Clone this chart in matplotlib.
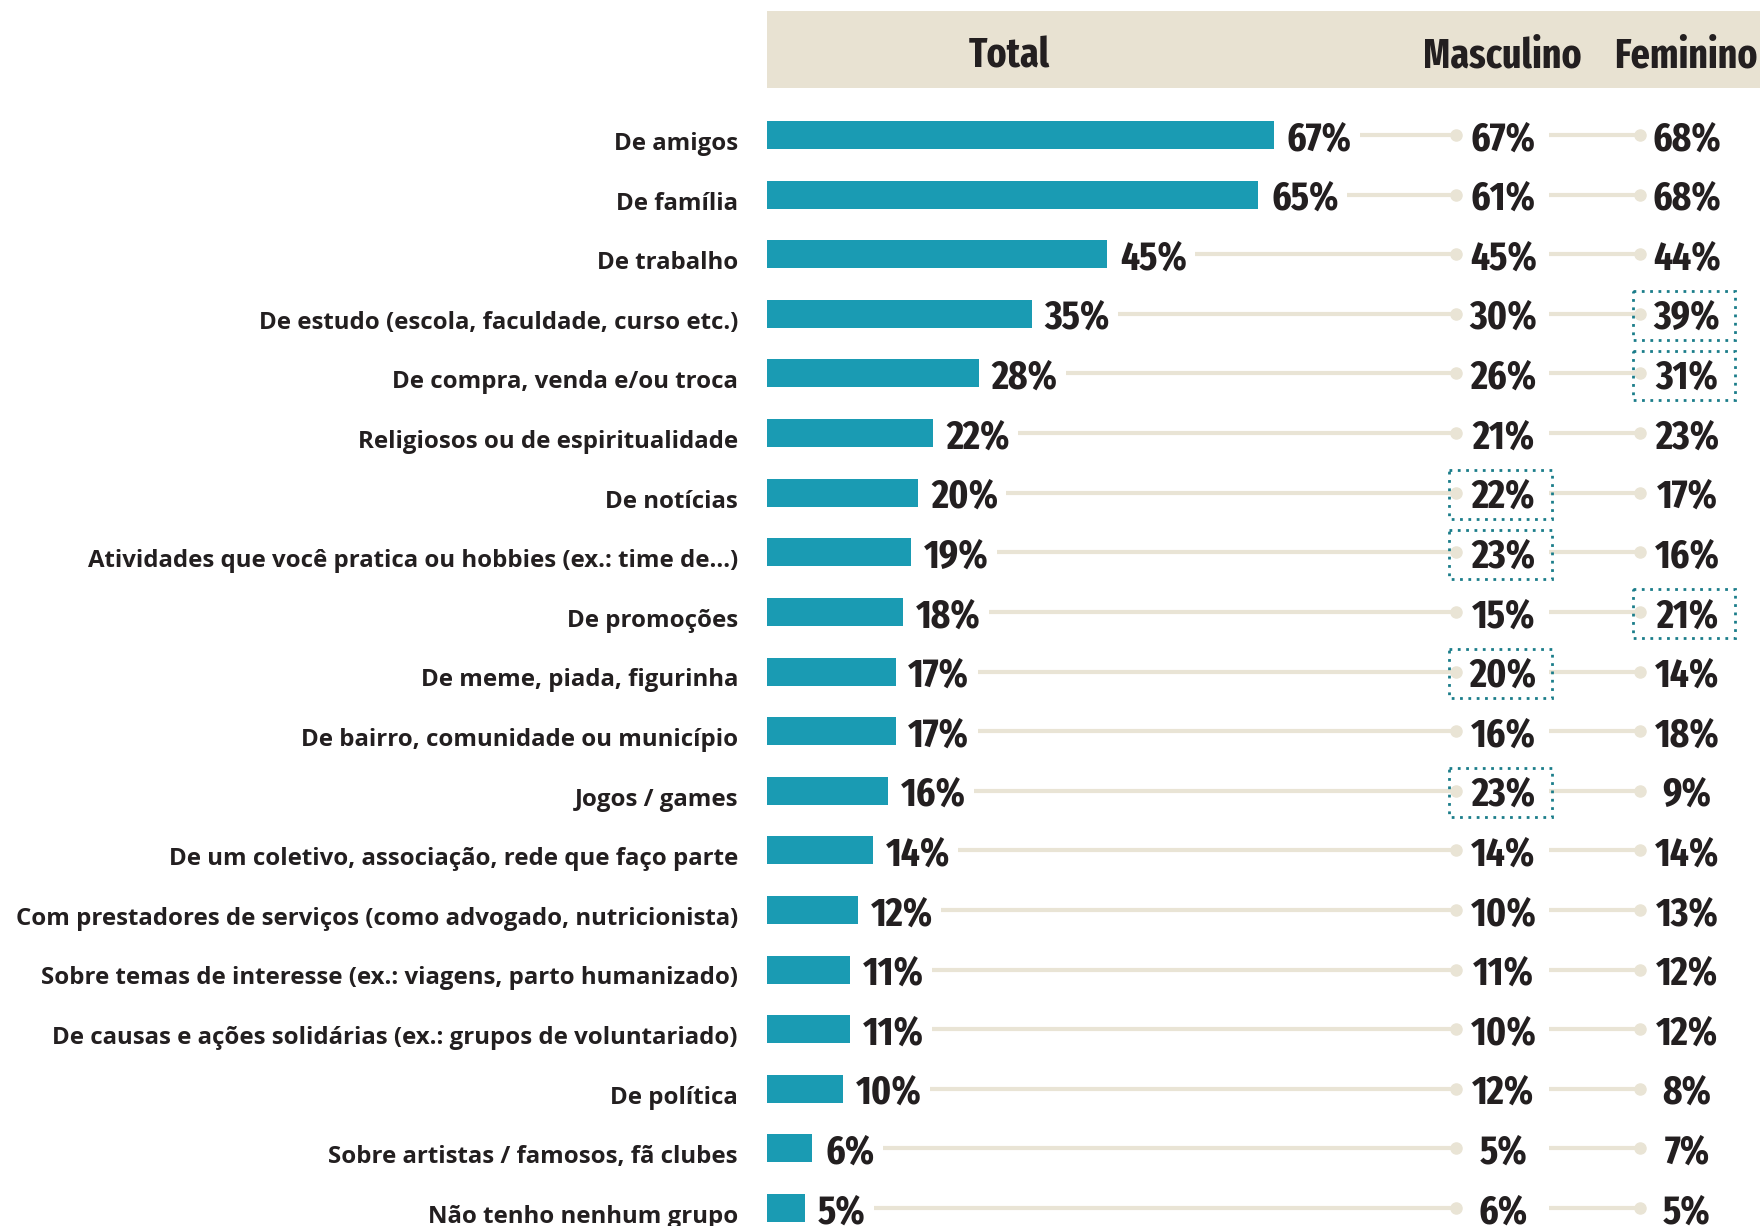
import matplotlib
matplotlib.use("Agg")
import matplotlib.pyplot as plt
from matplotlib.patches import Rectangle

categories = [
    "De amigos", "De família", "De trabalho",
    "De estudo (escola, faculdade, curso etc.)",
    "De compra, venda e/ou troca",
    "Religiosos ou de espiritualidade",
    "De notícias",
    "Atividades que você pratica ou hobbies (ex.: time de...)",
    "De promoções",
    "De meme, piada, figurinha",
    "De bairro, comunidade ou município",
    "Jogos / games",
    "De um coletivo, associação, rede que faço parte",
    "Com prestadores de serviços (como advogado, nutricionista)",
    "Sobre temas de interesse (ex.: viagens, parto humanizado)",
    "De causas e ações solidárias (ex.: grupos de voluntariado)",
    "De política",
    "Sobre artistas / famosos, fã clubes",
    "Não tenho nenhum grupo",
]
total = [67, 65, 45, 35, 28, 22, 20, 19, 18, 17, 17, 16, 14, 12, 11, 11, 10, 6, 5]
masculino = [67, 61, 45, 30, 26, 21, 22, 23, 15, 20, 16, 23, 14, 10, 11, 10, 12, 5, 6]
feminino = [68, 68, 44, 39, 31, 23, 17, 16, 21, 14, 18, 9, 14, 13, 12, 12, 8, 7, 5]
highlight_masc = [False, False, False, False, False, False, True, True, False, True,
                  False, True, False, False, False, False, False, False, False]
highlight_fem = [False, False, False, True, True, False, False, False, True, False,
                 False, False, False, False, False, False, False, False, False]
headers = ["Total", "Masculino", "Feminino"]

BAR = "#1a9bb3"
LINE = "#e9e4d5"
HEAD = "#e8e2d2"
BOX = "#1b7d8a"
TXT = "#231f20"
NUM_FONT = ["Fira Sans Extra Condensed", "DejaVu Sans"]
LAB_FONT = ["Open Sans", "DejaVu Sans"]

W, H = 1760, 1226
fig = plt.figure(figsize=(W / 100, H / 100), dpi=100)
ax = fig.add_axes([0, 0, 1, 1])
pxu = 7.56          # pixels per percent
x0 = 767            # pixel where bars start
row_px = 59.6
row0 = 135
ax.set_xlim(-x0 / pxu, (W - x0) / pxu)
ax.set_ylim(18 + (H - 1208) / row_px, -row0 / row_px)
ax.axis("off")

# header band
ax.add_patch(Rectangle((0, -2.08), (W - x0) / pxu, 1.29, color=HEAD, lw=0, zorder=0))
hx = [32.1, 97.3, 121.6]
for h, x in zip(headers, hx):
    ax.text(x, -1.32, h, ha="center", va="center", fontsize=29.5, fontweight="bold",
            family=NUM_FONT, color=TXT)

n = len(categories)
ys = list(range(n))
ax.barh(ys, total, height=0.47, left=0, color=BAR, zorder=2)

masc_dot = 91.1
masc_txt = 97.4
fem_line0 = 103.4
fem_dot = 115.5
fem_txt = 121.7

fig.canvas.draw()
r = fig.canvas.get_renderer()
inv = ax.transData.inverted()

for i, (c, t, m, f) in enumerate(zip(categories, total, masculino, feminino)):
    ax.text(-3.85, i + 0.15, c, ha="right", va="center", fontsize=17.3,
            fontweight="bold", family=LAB_FONT, color=TXT)
    tt = ax.text(t + 1.7, i + 0.075, f"{t}%", ha="left", va="center", fontsize=29,
                 fontweight="bold", family=NUM_FONT, color=TXT)
    bb = tt.get_window_extent(renderer=r)
    xend = inv.transform((bb.x1, 0))[0]
    ax.plot([xend + 1.1, masc_dot], [i, i], color=LINE, lw=3, zorder=1,
            solid_capstyle="butt")
    ax.plot([masc_dot], [i], "o", color=LINE, ms=8, zorder=1)
    ax.text(masc_txt, i + 0.075, f"{m}%", ha="center", va="center", fontsize=29,
            fontweight="bold", family=NUM_FONT, color=TXT)
    ax.plot([fem_line0, fem_dot], [i, i], color=LINE, lw=3, zorder=1,
            solid_capstyle="butt")
    ax.plot([fem_dot], [i], "o", color=LINE, ms=8, zorder=1)
    ax.text(fem_txt, i + 0.075, f"{f}%", ha="center", va="center", fontsize=29,
            fontweight="bold", family=NUM_FONT, color=TXT)
    if highlight_masc[i]:
        ax.add_patch(Rectangle((90.2, i - 0.38), 13.6, 0.82, fill=False, ec=BOX,
                               lw=2, ls=(0, (1, 2)), zorder=3))
    if highlight_fem[i]:
        ax.add_patch(Rectangle((114.6, i - 0.38), 13.5, 0.82, fill=False, ec=BOX,
                               lw=2, ls=(0, (1, 2)), zorder=3))

fig.savefig("out.png", dpi=100)
